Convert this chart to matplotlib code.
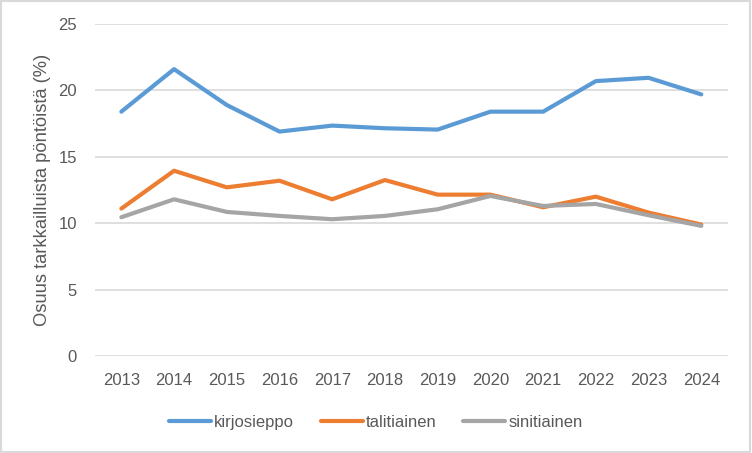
import matplotlib
matplotlib.use("Agg")
import matplotlib.pyplot as plt
from matplotlib.patches import Rectangle

years = ["2013", "2014", "2015", "2016", "2017", "2018", "2019", "2020", "2021", "2022", "2023", "2024"]
kirjosieppo = [18.4, 21.6, 18.9, 16.9, 17.35, 17.15, 17.05, 18.4, 18.4, 20.7, 20.95, 19.7]
talitiainen = [11.1, 13.95, 12.7, 13.2, 11.8, 13.25, 12.15, 12.15, 11.2, 12.0, 10.8, 9.9]
sinitiainen = [10.45, 11.8, 10.85, 10.55, 10.3, 10.55, 11.05, 12.05, 11.3, 11.45, 10.6, 9.8]
series = [("kirjosieppo", kirjosieppo, "#5B9BD5"),
          ("talitiainen", talitiainen, "#ED7D31"),
          ("sinitiainen", sinitiainen, "#A5A5A5")]

plt.rcParams['font.family'] = ['Liberation Sans', 'DejaVu Sans']
txt = "#595959"
fs = 12

fig = plt.figure(figsize=(7.52, 4.53), dpi=100)
fig.patches.append(Rectangle((0.001, 0.002), 0.997, 0.995, transform=fig.transFigure,
                             fill=False, edgecolor="#D9D9D9", linewidth=1.5))
ax = fig.add_axes([0.1263, 0.2141, 0.8413, 0.7329])
x = list(range(len(years)))
for name, vals, col in series:
    ax.plot(x, vals, color=col, lw=3.0, label=name, solid_capstyle="round", solid_joinstyle="round")

ax.set_xlim(-0.5, len(years) - 0.5)
ax.set_ylim(0, 25)
ax.set_yticks([0, 5, 10, 15, 20, 25])
ax.set_xticks(x)
ax.set_xticklabels(years)
ax.grid(axis="y", color="#D9D9D9", lw=1.2)
ax.set_axisbelow(True)
for s in ax.spines.values():
    s.set_visible(False)
ax.tick_params(length=0, labelsize=fs, colors=txt)
ax.tick_params(axis="x", pad=12.5)
ax.tick_params(axis="y", pad=13)
ax.set_ylabel("Osuus tarkkailluista pöntöistä (%)", fontsize=13.2, color=txt, labelpad=5)

leg = fig.legend(loc="center", bbox_to_anchor=(0.5, 0.067), ncol=3, frameon=False,
                 fontsize=fs, handlelength=2.5, handletextpad=0.2, columnspacing=1.6)
for t in leg.get_texts():
    t.set_color(txt)

fig.savefig("out.png", dpi=100)
